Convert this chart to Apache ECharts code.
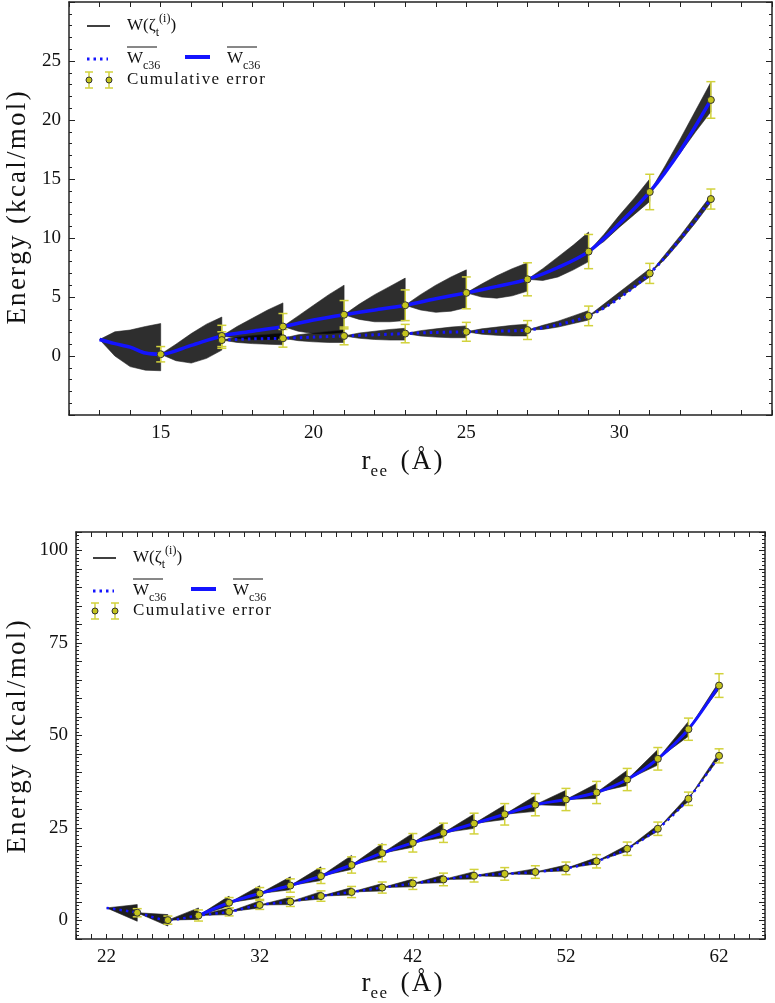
<!DOCTYPE html>
<html>
<head>
<meta charset="utf-8">
<title>Cumulative PMF windows</title>
<script src="https://cdn.jsdelivr.net/npm/echarts@6.0.0/dist/echarts.min.js"></script>
<style>
  html, body { margin: 0; padding: 0; background: #fff; }
  #chart { width: 775px; height: 1003px; }
</style>
</head>
<body>
<div id="chart"></div>
<script>
// ---------- top panel (12..35 A) ----------
// blue means
const topUpX = [13, 13.5, 14, 14.5, 15, 16, 17, 18, 19, 20, 21, 22, 23, 24, 25, 26, 27, 28, 29, 30, 31, 32, 33];
const topUpY = [1.4, 1.05, 0.75, 0.25, 0.15, 0.9, 1.7, 2.1, 2.5, 3.05, 3.5, 3.9, 4.3, 4.85, 5.35, 5.9, 6.5, 7.5, 8.85, 11.2, 13.9, 17.4, 21.7];
const topLowX = [17, 18, 19, 20, 21, 22, 23, 24, 25, 26, 27, 28, 29, 30, 31, 32, 33];
const topLowY = [1.35, 1.45, 1.5, 1.6, 1.7, 1.8, 1.9, 2.0, 2.05, 2.1, 2.2, 2.65, 3.4, 4.9, 7.0, 9.9, 13.3];
// cumulative error points
const topErrUpX = [15, 17, 19, 21, 23, 25, 27, 29, 31, 33];
const topErrUpY = [0.15, 1.7, 2.5, 3.5, 4.3, 5.35, 6.5, 8.85, 13.9, 21.7];
const topErrUpE = [0.65, 0.9, 1.1, 1.2, 1.3, 1.35, 1.4, 1.45, 1.5, 1.55];
const topErrLowX = [17, 19, 21, 23, 25, 27, 29, 31, 33];
const topErrLowY = [1.35, 1.5, 1.7, 1.9, 2.05, 2.2, 3.4, 7.0, 13.3];
const topErrLowE = [0.7, 0.75, 0.75, 0.78, 0.8, 0.8, 0.83, 0.85, 0.85];
// W(zeta) bundles, envelope at x0, x0+0.5, x0+1, x0+1.5, x0+2
const topFanX0 = [13, 15, 17, 19, 21, 23, 25, 27, 29, 31, 17, 19, 21, 23, 25, 27, 29, 31];
const topFanHi = [
  [1.4, 2.05, 2.2, 2.5, 2.75], [0.15, 1.0, 1.9, 2.7, 3.3], [1.7, 2.5, 3.2, 3.9, 4.5],
  [2.5, 3.4, 4.3, 5.2, 6.0], [3.5, 4.4, 5.2, 5.9, 6.6], [4.3, 5.2, 6.0, 6.7, 7.3],
  [5.35, 6.1, 6.8, 7.4, 7.9], [6.5, 7.4, 8.4, 9.4, 10.5], [8.85, 10.3, 11.9, 13.4, 15.0],
  [13.9, 16.1, 18.4, 20.8, 23.2],
  [1.35, 1.6, 1.75, 1.85, 1.95], [1.5, 1.8, 1.95, 2.1, 2.2], [1.7, 1.95, 2.1, 2.25, 2.35],
  [1.9, 2.15, 2.3, 2.45, 2.55], [2.05, 2.3, 2.45, 2.6, 2.7], [2.2, 2.6, 2.95, 3.4, 3.85],
  [3.4, 4.4, 5.4, 6.4, 7.4], [7.0, 8.6, 10.2, 11.9, 13.6]
];
const topFanLo = [
  [1.4, 0.0, -0.9, -1.2, -1.25], [0.15, -0.4, -0.6, -0.2, 0.5], [1.7, 1.5, 1.4, 1.4, 1.4],
  [2.5, 2.1, 1.9, 1.9, 2.0], [3.5, 3.1, 2.9, 2.9, 3.0], [4.3, 3.9, 3.7, 3.8, 4.1],
  [5.35, 5.0, 4.9, 5.1, 5.5], [6.5, 6.4, 6.7, 7.3, 8.0], [8.85, 9.7, 10.9, 12.0, 13.1],
  [13.9, 15.5, 17.2, 19.0, 20.7],
  [1.35, 1.15, 1.05, 1.0, 0.95], [1.5, 1.3, 1.2, 1.15, 1.15], [1.7, 1.5, 1.4, 1.35, 1.35],
  [1.9, 1.7, 1.6, 1.55, 1.55], [2.05, 1.85, 1.75, 1.7, 1.7], [2.2, 2.25, 2.45, 2.75, 3.05],
  [3.4, 4.0, 4.9, 5.8, 6.7], [7.0, 8.2, 9.7, 11.3, 13.0]
];

// ---------- bottom panel (20..65 A) ----------
const botUpX = [28, 30, 32, 34, 36, 38, 40, 42, 44, 46, 48, 50, 52, 54, 56, 58, 60, 62];
const botUpY = [1.35, 4.8, 7.3, 9.45, 12.0, 15.0, 18.2, 21.0, 23.7, 26.2, 28.7, 31.3, 32.7, 34.6, 38.1, 43.7, 51.7, 63.5];
const botLowX = [22, 24, 26, 28, 30, 32, 34, 36, 38, 40, 42, 44, 46, 48, 50, 52, 54, 56, 58, 60, 62];
const botLowY = [3.4, 2.1, 0.1, 1.35, 2.35, 4.2, 5.1, 6.6, 7.7, 8.9, 10.0, 11.1, 12.1, 12.6, 13.1, 14.1, 16.0, 19.4, 24.8, 32.9, 44.5];
const botErrUpE = [1.4, 1.6, 1.8, 2.0, 2.2, 2.3, 2.5, 2.6, 2.8, 2.9, 3.0, 3.0, 3.0, 3.0, 3.05, 3.0, 3.2];
const botErrLowE = [1.1, 1.1, 1.5, 1.1, 1.2, 1.3, 1.4, 1.5, 1.5, 1.6, 1.7, 1.7, 1.7, 1.7, 1.7, 1.8, 1.8, 1.8, 1.8, 1.9];
// bundles: start x, start value, spread at end of window
const botFanX0 = [22, 24, 26,
  28, 30, 32, 34, 36, 38, 40, 42, 44, 46, 48, 50, 52, 54, 56, 58, 60,
  28, 30, 32, 34, 36, 38, 40, 42, 44, 46, 48, 50, 52, 54, 56, 58, 60];
const botFanY0 = [3.4, 2.1, 0.1,
  1.35, 4.8, 7.3, 9.45, 12.0, 15.0, 18.2, 21.0, 23.7, 26.2, 28.7, 31.3, 32.7, 34.6, 38.1, 43.7, 51.7,
  1.35, 2.35, 4.2, 5.1, 6.6, 7.7, 8.9, 10.0, 11.1, 12.1, 12.6, 13.1, 14.1, 16.0, 19.4, 24.8, 32.9];
const botFanHi = [4.3, 1.6, 3.4,
  6.6, 9.4, 11.8, 14.5, 17.6, 20.8, 23.6, 26.3, 28.8, 31.2, 33.7, 35.2, 37.0, 40.6, 46.2, 53.8, 64.5,
  3.4, 5.3, 6.3, 7.8, 8.9, 10.0, 11.2, 12.3, 13.2, 13.6, 14.0, 15.0, 17.0, 20.4, 25.8, 33.8, 45.3];
const botFanLo = [-0.2, -1.5, 0.3,
  3.9, 6.1, 8.3, 10.8, 13.8, 17.0, 19.8, 22.4, 24.9, 27.3, 29.5, 31.0, 33.0, 36.5, 42.0, 49.8, 62.5,
  1.6, 3.4, 4.3, 5.8, 6.9, 8.0, 9.1, 10.2, 11.2, 11.8, 12.4, 13.4, 15.3, 18.7, 24.1, 32.2, 43.8];

const errColor = '#d2d23c';
const dotColor = '#c4c41c';
const blue = '#1414ff';
const serif = 'Liberation Serif';
const hs = '\u200A'; // hair space, the original typesetting is loosely spaced

const zip = (xs, ys) => xs.map((x, i) => [x, ys[i]]);
const spaced = s => s.split('').join(hs);

function errBar(params, api) {
  const x = api.value(0), y = api.value(1), e = api.value(2);
  const a = api.coord([x, y + e]), b = api.coord([x, y - e]);
  const st = { stroke: errColor, lineWidth: 1.5 };
  return { type: 'group', children: [
    { type: 'line', shape: { x1: a[0], y1: a[1], x2: b[0], y2: b[1] }, style: st },
    { type: 'line', shape: { x1: a[0] - 4.5, y1: a[1], x2: a[0] + 4.5, y2: a[1] }, style: st },
    { type: 'line', shape: { x1: b[0] - 4.5, y1: b[1], x2: b[0] + 4.5, y2: b[1] }, style: st }
  ] };
}

function topFan(params, api) {
  const x0 = api.value(0);
  const up = [], dn = [];
  for (let k = 0; k < 5; k++) {
    up.push(api.coord([x0 + k * 0.5, api.value(1 + k)]));
    dn.unshift(api.coord([x0 + k * 0.5, api.value(6 + k)]));
  }
  return { type: 'polygon', shape: { points: up.concat(dn) },
    style: { fill: '#000', opacity: 0.82, stroke: '#222', lineWidth: 0.7 } };
}

function botFan(params, api) {
  const x0 = api.value(0);
  const p0 = api.coord([x0, api.value(1)]);
  const p1 = api.coord([x0 + 2, api.value(2)]);
  const p2 = api.coord([x0 + 2, api.value(3)]);
  return { type: 'polygon', shape: { points: [p0, p1, p2] },
    style: { fill: '#000', opacity: 0.88, stroke: '#222', lineWidth: 0.7 } };
}

const topFanData = topFanX0.map((x, i) => [x].concat(topFanHi[i], topFanLo[i]));
const botFanData = botFanX0.map((x, i) => [x, botFanY0[i], botFanHi[i], botFanLo[i]]);
const botErrUp = botUpX.slice(1).map((x, i) => [x, botUpY[i + 1], botErrUpE[i]]);
const botErrLow = botLowX.slice(1).map((x, i) => [x, botLowY[i + 1], botErrLowE[i]]);
const topErrUp = topErrUpX.map((x, i) => [x, topErrUpY[i], topErrUpE[i]]);
const topErrLow = topErrLowX.map((x, i) => [x, topErrLowY[i], topErrLowE[i]]);

const lbl = { fontFamily: serif, fontSize: 19, color: '#111' };
const frame = { show: true, onZero: false, lineStyle: { color: '#222', width: 1.5 } };

function xAx(grid, min, max, pos, labelFn) {
  return {
    type: 'value', gridIndex: grid, position: pos, min: min, max: max, interval: 1,
    axisLine: frame, splitLine: { show: false },
    axisTick: { show: true, inside: true, length: 5, lineStyle: { color: '#222' } },
    axisLabel: labelFn ? Object.assign({ show: true, interval: 0, margin: 9, formatter: labelFn }, lbl) : { show: false }
  };
}
function yAx(grid, min, max, pos, labelFn) {
  return {
    type: 'value', gridIndex: grid, position: pos, min: min, max: max, interval: 5,
    axisLine: frame, splitLine: { show: false },
    axisTick: { show: true, inside: true, length: 6, lineStyle: { color: '#222' } },
    minorTick: { show: true, splitNumber: 5, length: 3, lineStyle: { color: '#222' } },
    axisLabel: labelFn ? Object.assign({ show: true, margin: 8, formatter: labelFn }, lbl) : { show: false }
  };
}

const chart = echarts.init(document.getElementById('chart'), null, { renderer: 'canvas' });

function legend(x0, y0, k) {
  // k: vertical offsets of the three rows
  const base = { fontFamily: serif, fill: '#111' };
  const wRich = {
    a: Object.assign({ fontSize: 17, lineHeight: 26, verticalAlign: 'middle' }, base),
    s: Object.assign({ fontSize: 12, lineHeight: 26, verticalAlign: 'bottom' }, base),
    p: Object.assign({ fontSize: 12, lineHeight: 26, verticalAlign: 'top' }, base)
  };
  const items = [];
  items.push({ type: 'line', shape: { x1: x0, y1: y0 + k[0], x2: x0 + 23, y2: y0 + k[0] }, style: { stroke: '#000', lineWidth: 1.5 } });
  items.push({ type: 'text', x: x0 + 40, y: y0 + k[0], style: { text: '{a|W(ζ}{s|t}{p|(i)}{a|)}', rich: wRich, verticalAlign: 'middle' } });
  items.push({ type: 'line', shape: { x1: x0, y1: y0 + k[1], x2: x0 + 21, y2: y0 + k[1] }, style: { stroke: blue, lineWidth: 3, lineDash: [2.5, 4] } });
  items.push({ type: 'text', x: x0 + 40, y: y0 + k[1], style: { text: '{a|W}{s|c36}', rich: wRich, verticalAlign: 'middle' } });
  items.push({ type: 'line', shape: { x1: x0 + 40, y1: y0 + k[1] - 12, x2: x0 + 70, y2: y0 + k[1] - 12 }, style: { stroke: '#111', lineWidth: 1 } });
  items.push({ type: 'line', shape: { x1: x0 + 98, y1: y0 + k[1] - 2, x2: x0 + 123, y2: y0 + k[1] - 2 }, style: { stroke: blue, lineWidth: 4 } });
  items.push({ type: 'text', x: x0 + 140, y: y0 + k[1], style: { text: '{a|W}{s|c36}', rich: wRich, verticalAlign: 'middle' } });
  items.push({ type: 'line', shape: { x1: x0 + 140, y1: y0 + k[1] - 12, x2: x0 + 170, y2: y0 + k[1] - 12 }, style: { stroke: '#111', lineWidth: 1 } });
  [x0 + 2, x0 + 22].forEach(function (cx) {
    const y = y0 + k[2];
    const st = { stroke: errColor, lineWidth: 1.5 };
    items.push({ type: 'line', shape: { x1: cx, y1: y - 8, x2: cx, y2: y + 8 }, style: st });
    items.push({ type: 'line', shape: { x1: cx - 4, y1: y - 8, x2: cx + 4, y2: y - 8 }, style: st });
    items.push({ type: 'line', shape: { x1: cx - 4, y1: y + 8, x2: cx + 4, y2: y + 8 }, style: st });
    items.push({ type: 'circle', shape: { cx: cx, cy: y, r: 3 }, style: { fill: dotColor, stroke: '#333', lineWidth: 1 } });
  });
  items.push({ type: 'text', x: x0 + 40, y: y0 + k[2], style: { text: spaced('Cumulative error'), fontFamily: serif, fontSize: 17, fill: '#111', verticalAlign: 'middle' } });
  return items;
}

function xTitle(cx, cy) {
  return { type: 'text', x: cx, y: cy, style: {
    text: '{a|r}{s|' + spaced('ee') + '}{a|\u2002' + spaced('(Å)') + '}', align: 'center', verticalAlign: 'middle',
    rich: {
      a: { fontFamily: serif, fontSize: 27, lineHeight: 36, verticalAlign: 'middle', fill: '#111' },
      s: { fontFamily: serif, fontSize: 17, lineHeight: 36, verticalAlign: 'bottom', fill: '#111' }
    } } };
}
function yTitle(cx, cy) {
  return { type: 'text', x: cx, y: cy, rotation: Math.PI / 2, style: {
    text: spaced('Energy (kcal/mol)'), fontFamily: serif, fontSize: 27, fill: '#111', align: 'center', verticalAlign: 'middle' } };
}

const option = {
  animation: false,
  backgroundColor: '#fff',
  grid: [
    { left: 69, top: 2, width: 704, height: 413 },
    { left: 76, top: 532, width: 689, height: 407 }
  ],
  xAxis: [
    xAx(0, 12, 35, 'bottom', v => (v % 5 === 0 && v < 35 ? String(v) : '')),
    xAx(0, 12, 35, 'top', null),
    xAx(1, 20, 65, 'bottom', v => ((v - 22) % 10 === 0 ? String(v) : '')),
    xAx(1, 20, 65, 'top', null)
  ],
  yAxis: [
    yAx(0, -5, 30, 'left', v => (v >= 0 && v <= 25 ? String(v) : '')),
    yAx(0, -5, 30, 'right', null),
    yAx(1, -5, 105, 'left', v => (v >= 0 && v % 25 === 0 && v <= 100 ? String(v) : '')),
    yAx(1, -5, 105, 'right', null)
  ],
  graphic: [].concat(
    legend(87, 0, [26, 59, 80]),
    legend(93, 532, [26, 59, 79]),
    [xTitle(402, 462), xTitle(402, 984), yTitle(18, 208), yTitle(18, 737)]
  ),
  series: [
    { type: 'custom', xAxisIndex: 0, yAxisIndex: 0, renderItem: topFan, data: topFanData, z: 1, silent: true },
    { type: 'line', xAxisIndex: 0, yAxisIndex: 0, data: zip(topLowX, topLowY), smooth: 0.3, symbol: 'none',
      lineStyle: { color: blue, width: 3, type: [2.5, 4] }, z: 2 },
    { type: 'line', xAxisIndex: 0, yAxisIndex: 0, data: zip(topUpX, topUpY), smooth: 0.3, symbol: 'none',
      lineStyle: { color: blue, width: 3.5 }, z: 2 },
    { type: 'custom', xAxisIndex: 0, yAxisIndex: 0, renderItem: errBar, data: topErrUp.concat(topErrLow), z: 3 },
    { type: 'scatter', xAxisIndex: 0, yAxisIndex: 0, data: topErrUp.concat(topErrLow).map(d => [d[0], d[1]]),
      symbolSize: 7, itemStyle: { color: dotColor, borderColor: '#333', borderWidth: 1, opacity: 1 }, z: 4 },

    { type: 'custom', xAxisIndex: 2, yAxisIndex: 2, renderItem: botFan, data: botFanData, z: 1, silent: true },
    { type: 'line', xAxisIndex: 2, yAxisIndex: 2, data: zip(botLowX, botLowY), smooth: 0.3, symbol: 'none',
      lineStyle: { color: blue, width: 2.5, type: [2.5, 4] }, z: 2 },
    { type: 'line', xAxisIndex: 2, yAxisIndex: 2, data: zip(botUpX, botUpY), smooth: 0.3, symbol: 'none',
      lineStyle: { color: blue, width: 3 }, z: 2 },
    { type: 'custom', xAxisIndex: 2, yAxisIndex: 2, renderItem: errBar, data: botErrUp.concat(botErrLow), z: 3 },
    { type: 'scatter', xAxisIndex: 2, yAxisIndex: 2, data: botErrUp.concat(botErrLow).map(d => [d[0], d[1]]),
      symbolSize: 7, itemStyle: { color: dotColor, borderColor: '#333', borderWidth: 1, opacity: 1 }, z: 4 }
  ]
};
chart.setOption(option);
</script>
</body>
</html>
